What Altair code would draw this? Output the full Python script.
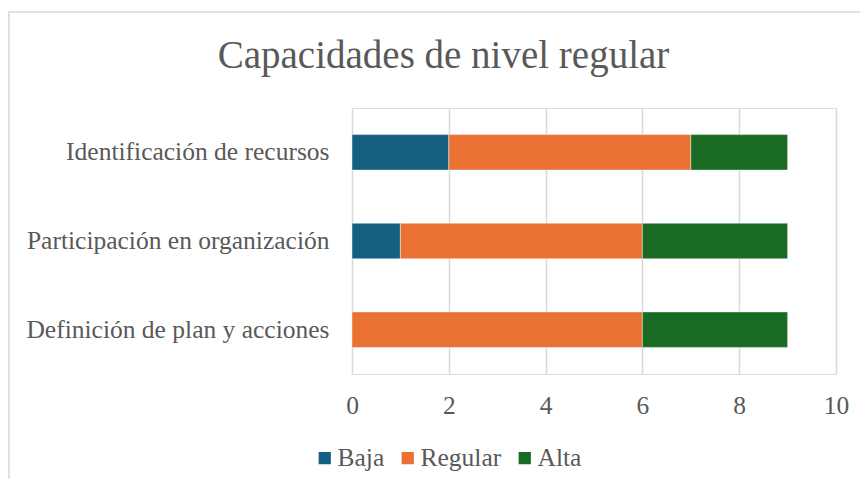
import altair as alt
import pandas as pd

titulo = "Capacidades de nivel regular"
categorias = ["Identificación de recursos", "Participación en organización", "Definición de plan y acciones"]
niveles = ["Baja", "Regular", "Alta"]
baja = [2, 1, 0]
regular = [5, 5, 6]
alta = [2, 3, 3]
colores = ["#156082", "#E97132", "#196B24"]
x_ticks = [0, 2, 4, 6, 8, 10]

rows = []
for i, c in enumerate(categorias):
    for j, (n, vals) in enumerate(zip(niveles, [baja, regular, alta])):
        rows.append({"categoria": c, "nivel": n, "valor": vals[i], "orden": j})
df = pd.DataFrame(rows)

FONT = "Liberation Serif"
TXT = "#595959"
FS = 25.5

bars = alt.Chart(df).mark_bar(stroke="white", strokeWidth=0.6, strokeOpacity=0.7).encode(
    y=alt.Y("categoria:N", sort=categorias, title=None,
            scale=alt.Scale(paddingInner=0.6, paddingOuter=0.3),
            axis=alt.Axis(ticks=False, domain=False, labelFontSize=FS, labelFont=FONT,
                          labelColor=TXT, labelPadding=23, labelLimit=400)),
    x=alt.X("valor:Q", stack="zero", title=None,
            scale=alt.Scale(domain=[0, 10], nice=False),
            axis=alt.Axis(values=x_ticks, ticks=False, domain=False, labelFontSize=FS,
                          labelFont=FONT, labelColor=TXT, labelPadding=19, labelFlush=False,
                          gridColor="#d9d9d9", gridWidth=1.5)),
    color=alt.Color("nivel:N", sort=niveles,
                    scale=alt.Scale(domain=niveles, range=colores),
                    legend=alt.Legend(title=None, orient="none", direction="horizontal",
                                      legendX=-40, legendY=337, symbolType="square",
                                      symbolSize=150, symbolStrokeWidth=0,
                                      labelFontSize=FS, labelFont=FONT, labelColor=TXT,
                                      labelOffset=0, columnPadding=10)),
    order=alt.Order("orden:Q"),
)

border = alt.Chart(alt.Data(values=[{}])).mark_rect(
    filled=False, stroke="#d9d9d9", strokeWidth=1.5, clip=False
).encode(x=alt.value(-343), x2=alt.value(540), y=alt.value(-96), y2=alt.value(400))

title = alt.Chart(alt.Data(values=[{}])).mark_text(
    text=titulo, font=FONT, fontSize=39, color=TXT, align="center",
    baseline="alphabetic", clip=False
).encode(x=alt.value(91.5), y=alt.value(-40))

chart = alt.layer(border, title, bars).properties(
    width=484, height=266,
    padding={"left": 344, "top": 100, "right": 24, "bottom": 105},
    autosize=alt.AutoSizeParams(type="none"),
).configure_view(stroke=None).configure(background="white")

chart.save("out.html", embed_options={"renderer": "svg", "actions": False})
